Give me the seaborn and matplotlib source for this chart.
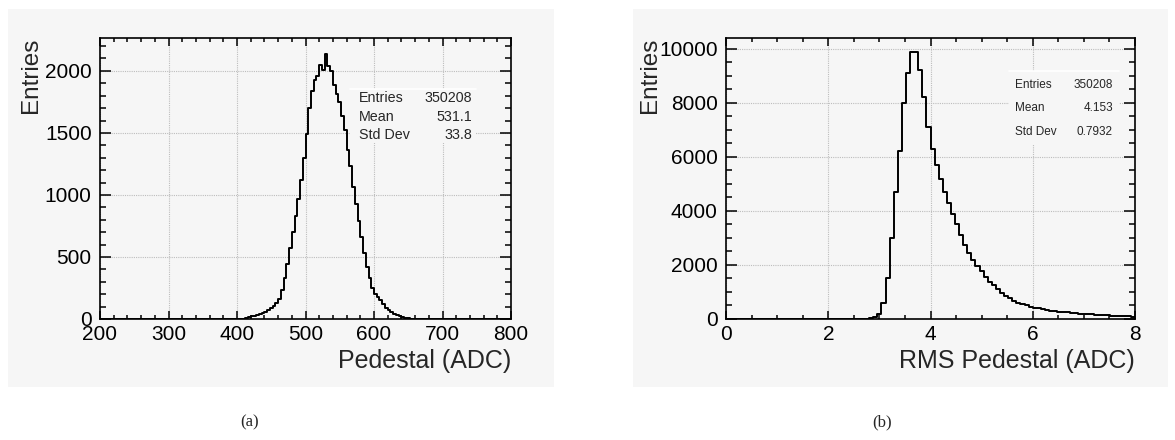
import numpy as np
import pandas as pd
import matplotlib
matplotlib.use("Agg")
import matplotlib.pyplot as plt
from matplotlib.patches import Rectangle
from matplotlib.ticker import MultipleLocator
import seaborn as sns

# (a) pedestal histogram, 4 ADC bins starting at 400 (counts)
ped_lo, ped_width = 400, 4
ped_counts = [0, 2, 4, 8, 14, 22, 26, 30, 38, 46, 56, 70, 88, 104, 125, 165,
              230, 330, 440, 570, 700, 830, 970, 1120, 1300, 1490, 1700, 1840,
              1930, 1960, 2050, 2010, 2140, 2040, 2000, 1890, 1810, 1750, 1640,
              1520, 1360, 1230, 1060, 930, 790, 660, 530, 420, 330, 250, 205,
              180, 150, 118, 92, 72, 54, 40, 30, 22, 14, 9, 5, 3, 1, 0]

# (b) RMS pedestal histogram, 0.08 ADC bins starting at 2.80
rms_lo, rms_width = 2.80, 0.08
rms_counts = [20, 80, 180, 600, 1500, 3000, 4700, 6200, 8000, 9100, 9900, 9900,
              9200, 8200, 7100, 6300, 5700, 5200, 4700, 4300, 3900, 3500, 3100,
              2750, 2450, 2200, 1950, 1780, 1560, 1380, 1240, 1100, 960, 860,
              770, 680, 610, 550, 500, 450, 420, 390, 360, 330, 310, 290, 275,
              260, 245, 230, 215, 200, 190, 180, 170, 160, 150, 140, 130, 122,
              115, 108, 100, 95, 88]

stat_names = ["Entries", "Mean", "Std Dev"]
ped_stats = ["350208", "531.1", "33.8"]
rms_stats = ["350208", "4.153", "0.7932"]

sns.set_theme(style="ticks")
plt.rcParams['font.family'] = ['Liberation Sans', 'DejaVu Sans']
PANEL = '#f6f6f6'

fig = plt.figure(figsize=(11.75, 4.4), dpi=100)
fig.patch.set_facecolor('white')
for x0, x1 in [(8, 554), (633, 1168)]:
    fig.patches.append(Rectangle((x0 / 1175, 1 - 387 / 440), (x1 - x0) / 1175, 378 / 440,
                                 transform=fig.transFigure, facecolor=PANEL,
                                 edgecolor='none', zorder=-5))

ax1 = fig.add_axes([100 / 1175, 1 - 319 / 440, 411 / 1175, 281 / 440])
ax2 = fig.add_axes([726 / 1175, 1 - 319 / 440, 409 / 1175, 281 / 440])
for a in (ax1, ax2):
    a.set_zorder(2)


def draw_hist(ax, lo, width, counts, xmin, xmax):
    df = pd.DataFrame({'x': [lo + width * (i + 0.5) for i in range(len(counts))],
                       'n': counts})
    edges = list(np.arange(xmin, xmax + width / 2, width))
    sns.histplot(data=df, x='x', weights='n', bins=edges, element='step', fill=False,
                 color='black', linewidth=1.4, ax=ax)


def style_axes(ax, xlim, ylim, xmaj, xmin, ymaj, ymin, xlabel, ylab_x):
    ax.set_facecolor(PANEL)
    ax.set_xlim(*xlim)
    ax.set_ylim(*ylim)
    ax.xaxis.set_major_locator(MultipleLocator(xmaj))
    ax.xaxis.set_minor_locator(MultipleLocator(xmin))
    ax.yaxis.set_major_locator(MultipleLocator(ymaj))
    ax.yaxis.set_minor_locator(MultipleLocator(ymin))
    ax.tick_params(which='both', direction='in', top=True, right=True, width=1.1,
                   labelsize=15, colors='black')
    ax.tick_params(axis='x', which='major', length=6, pad=4)
    ax.tick_params(axis='x', which='minor', length=3)
    ax.tick_params(axis='y', which='major', length=8, pad=6)
    ax.tick_params(axis='y', which='minor', length=4.5)
    for s in ax.spines.values():
        s.set_visible(True)
        s.set_linewidth(1.2)
        s.set_color('black')
    ax.grid(True, which='major', color='#bdbdbd', linestyle=(0, (1, 1)), linewidth=0.8)
    ax.set_axisbelow(True)
    ax.set_xlabel(xlabel, fontsize=18, loc='right')
    ax.set_ylabel('Entries', fontsize=17.5, loc='top')
    ax.xaxis.set_label_coords(1.0, -0.105)
    ax.xaxis.label.set_va('top')
    ax.yaxis.set_label_coords(ylab_x, 1.0)


def stats_box(ax, box, xs, ys, values, fs):
    x0, y0, x1, y1 = box
    ax.add_patch(Rectangle((x0, y0), x1 - x0, y1 - y0, transform=ax.transAxes,
                           facecolor=PANEL, edgecolor='none', zorder=3))
    ax.plot([x0, x1], [y1, y1], transform=ax.transAxes, color='white', lw=1.2, zorder=4)
    for name, val, y in zip(stat_names, values, ys):
        ax.text(xs[0], y, name, transform=ax.transAxes, ha='left', va='center',
                fontsize=fs, zorder=5)
        ax.text(xs[1], y, val, transform=ax.transAxes, ha='right', va='center',
                fontsize=fs, zorder=5)


draw_hist(ax1, ped_lo, ped_width, ped_counts, 200, 800)
style_axes(ax1, (200, 800), (0, 2265), 100, 20, 500, 100, 'Pedestal (ADC)', -0.14)
stats_box(ax1, (0.608, 0.626, 0.915, 0.818), (0.630, 0.905),
          [0.786, 0.719, 0.655], ped_stats, 10.3)

draw_hist(ax2, rms_lo, rms_width, rms_counts, 0, 8)
style_axes(ax2, (0, 8), (0, 10400), 2, 0.5, 2000, 500, 'RMS Pedestal (ADC)', -0.16)
stats_box(ax2, (0.692, 0.623, 0.961, 0.883), (0.707, 0.946),
          [0.833, 0.751, 0.665], rms_stats, 8.5)

fig.text(250 / 1175, 1 - 422 / 440, '(a)', ha='center', va='center', fontsize=12,
         family=['Liberation Serif', 'DejaVu Serif'])
fig.text(882 / 1175, 1 - 422 / 440, '(b)', ha='center', va='center', fontsize=12,
         family=['Liberation Serif', 'DejaVu Serif'])

fig.savefig('out.png', dpi=100, facecolor='white')
